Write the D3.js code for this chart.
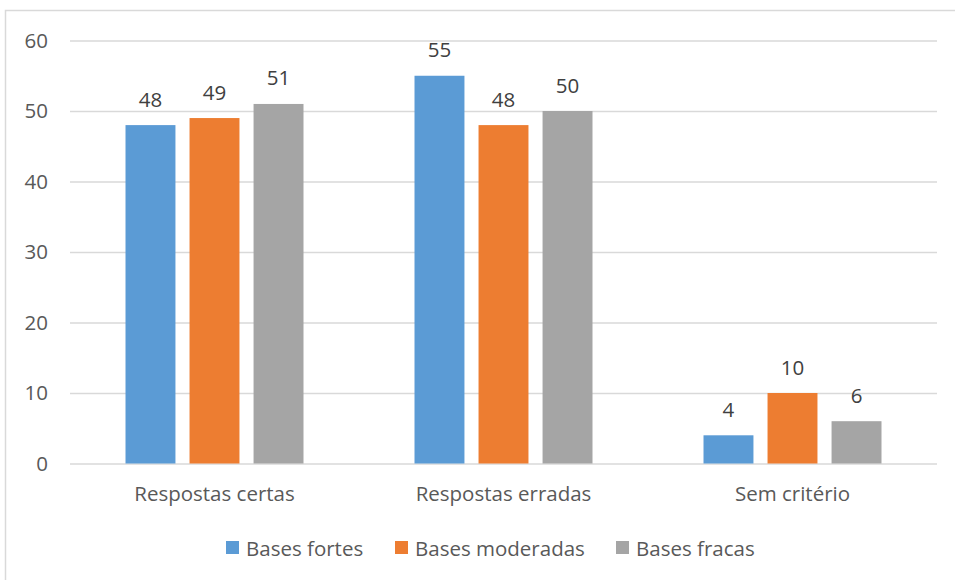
<!DOCTYPE html>
<html>
<head>
<meta charset="utf-8">
<script src="https://cdn.jsdelivr.net/npm/d3@7"></script>
<style>
  html, body { margin: 0; padding: 0; background: #fff; }
  svg { display: block; font-family: "Open Sans", "Lato", sans-serif; }
</style>
</head>
<body>
<svg id="chart" width="955" height="580"></svg>
<script>
// Categories and series values
const categories = ["Respostas certas", "Respostas erradas", "Sem critério"];
const seriesNames = ["Bases fortes", "Bases moderadas", "Bases fracas"];
const basesFortes = [48, 55, 4];
const basesModeradas = [49, 48, 10];
const basesFracas = [51, 50, 6];
const yTicks = [0, 10, 20, 30, 40, 50, 60];

const seriesValues = [basesFortes, basesModeradas, basesFracas];
const colors = ["#5B9BD5", "#ED7D31", "#A5A5A5"];
const FONT = "'Open Sans', Lato, sans-serif";
const FS = 20.5;

const svg = d3.select("#chart");
const plot = { left: 70, right: 937, top: 40.5, bottom: 463.5 };

// Chart frame
svg.append("rect")
  .attr("x", 5.5).attr("y", 10.5)
  .attr("width", 1000).attr("height", 1000)
  .attr("fill", "#fff")
  .attr("stroke", "#D9D9D9").attr("stroke-width", 1.5);

const x0 = d3.scaleBand().domain(categories).range([plot.left, plot.right]).padding(0);
const x1 = d3.scaleBand().domain(seriesNames).range([0, x0.bandwidth()])
  .paddingInner(0.22).paddingOuter(0.867);
const y = d3.scaleLinear().domain([0, 60]).range([plot.bottom, plot.top]);

// Gridlines and y labels
const yAxis = d3.axisLeft(y).tickValues(yTicks).tickSize(-(plot.right - plot.left)).tickPadding(22);
const gy = svg.append("g").attr("transform", `translate(${plot.left},0)`).call(yAxis);
gy.select(".domain").remove();
gy.selectAll(".tick line").attr("stroke", "#D9D9D9").attr("stroke-width", 1.5);
gy.selectAll(".tick text")
  .attr("fill", "#595959").attr("font-size", FS)
  .attr("font-family", FONT);

// Bars
const groups = svg.append("g").selectAll("g")
  .data(categories)
  .join("g")
  .attr("transform", c => `translate(${x0(c)},0)`);

groups.selectAll("rect")
  .data((c, i) => seriesNames.map((s, j) => ({ s, v: seriesValues[j][i], j })))
  .join("rect")
  .attr("x", d => x1(d.s))
  .attr("width", x1.bandwidth())
  .attr("y", d => y(d.v))
  .attr("height", d => y(0) - y(d.v))
  .attr("fill", d => colors[d.j]);

// Value labels
groups.selectAll("text")
  .data((c, i) => seriesNames.map((s, j) => ({ s, v: seriesValues[j][i], j })))
  .join("text")
  .attr("x", d => x1(d.s) + x1.bandwidth() / 2)
  .attr("y", d => y(d.v) - 18.5)
  .attr("text-anchor", "middle")
  .attr("fill", "#404040")
  .attr("font-size", FS)
  .text(d => d.v);

// Category labels
const xAxis = d3.axisBottom(x0).tickSize(0).tickPadding(23);
const gx = svg.append("g").attr("transform", `translate(0,${plot.bottom})`).call(xAxis);
gx.select(".domain").remove();
gx.selectAll(".tick text")
  .attr("fill", "#595959").attr("font-size", FS)
  .attr("font-family", FONT);

// Legend
const legendX = [226, 395, 616];
const legend = svg.append("g").selectAll("g")
  .data(seriesNames)
  .join("g")
  .attr("transform", (d, i) => `translate(${legendX[i]},541)`);
legend.append("rect")
  .attr("width", 13).attr("height", 13)
  .attr("fill", (d, i) => colors[i]);
legend.append("text")
  .attr("x", 20).attr("y", 14.5)
  .attr("fill", "#595959").attr("font-size", FS)
  .text(d => d);
</script>
</body>
</html>
